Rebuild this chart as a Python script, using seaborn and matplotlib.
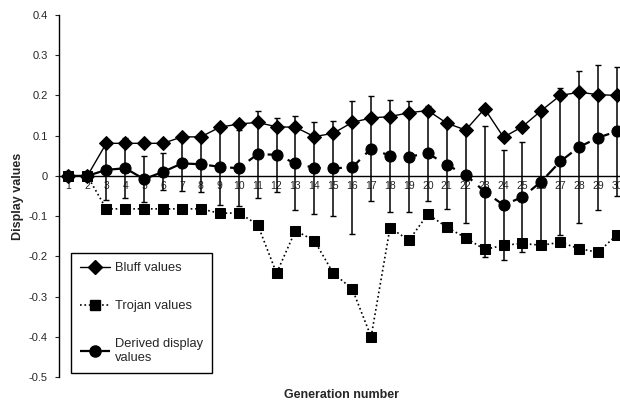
import matplotlib
matplotlib.use("Agg")
import matplotlib.pyplot as plt
import seaborn as sns
import pandas as pd
from matplotlib.lines import Line2D

gens = list(range(1, 31))
bluff = [0, 0, 0.081, 0.081, 0.081, 0.081, 0.097, 0.097, 0.121, 0.129,
         0.133, 0.122, 0.121, 0.0975, 0.106, 0.133, 0.144, 0.1475, 0.157, 0.1625,
         0.131, 0.114, 0.167, 0.096, 0.1225, 0.1625, 0.2, 0.208, 0.202, 0.2]
trojan = [0, 0, -0.082, -0.082, -0.082, -0.082, -0.082, -0.082, -0.093, -0.092,
          -0.121, -0.242, -0.136, -0.161, -0.242, -0.281, -0.4, -0.129, -0.16, -0.095,
          -0.1275, -0.154, -0.183, -0.1725, -0.168, -0.1725, -0.165, -0.181, -0.19, -0.146]
derived = [0, 0, 0.015, 0.019, -0.008, 0.01, 0.031, 0.029, 0.0225, 0.019,
           0.054, 0.0525, 0.031, 0.02, 0.019, 0.021, 0.068, 0.05, 0.048, 0.056,
           0.0275, 0.0025, -0.039, -0.0725, -0.0525, -0.014, 0.036, 0.072, 0.095, 0.111]
derived_err = [0, 0, 0.075, 0.075, 0.058, 0.046, 0.068, 0.068, 0.096, 0.094,
               0.108, 0.092, 0.117, 0.114, 0.118, 0.166, 0.13, 0.139, 0.139, 0.118,
               0.11, 0.12, 0.163, 0.136, 0.137, 0.169, 0.182, 0.19, 0.18, 0.16]
ytick_vals = [0.4, 0.3, 0.2, 0.1, 0, -0.1, -0.2, -0.3, -0.4, -0.5]
ytick_labels = ["0.4", "0.3", "0.2", "0.1", "0", "-0.1", "-0.2", "-0.3", "-0.4", "-0.5"]
series_names = ["Bluff values", "Trojan values", "Derived display\nvalues"]

sns.set_style("white")
plt.rcParams['font.family'] = ['Liberation Sans', 'DejaVu Sans']

fig = plt.figure(figsize=(6.2, 4.07), dpi=100)
W, H = 620, 407
left, right, top, bottom = 59, 626.5, 15, 377
ax = fig.add_axes([left / W, 1 - bottom / H, (right - left) / W, (bottom - top) / H])

df = pd.DataFrame({"gen": gens, "bluff": bluff, "trojan": trojan, "derived": derived})

# error bars on derived values
ax.errorbar(gens, derived, yerr=derived_err, fmt='none', ecolor='black',
            elinewidth=1.1, capsize=2.2, capthick=1.0, zorder=2)

sns.lineplot(data=df, x="gen", y="derived", ax=ax, color='black', lw=1.6,
             marker='o', markersize=8, markeredgecolor='black',
             dashes=False, zorder=3)
ax.lines[-1].set_dashes([6, 3.5])
sns.lineplot(data=df, x="gen", y="bluff", ax=ax, color='black', lw=1.0,
             marker='D', markersize=7.2, markeredgecolor='black', zorder=4)
sns.lineplot(data=df, x="gen", y="trojan", ax=ax, color='black', lw=1.2,
             marker='s', markersize=7.5, markeredgecolor='black', zorder=5)
ax.lines[-1].set_linestyle(':')

ax.set_xlim(0.5, 30.5)
ax.set_ylim(-0.5, 0.4)
ax.set_xlabel("")
ax.set_ylabel("")

for s in ['top', 'right']:
    ax.spines[s].set_visible(False)
ax.spines['bottom'].set_position(('data', 0))
ax.spines['bottom'].set_color('black')
ax.spines['bottom'].set_linewidth(1.0)
ax.spines['left'].set_color('black')
ax.spines['left'].set_linewidth(1.0)

ax.set_xticks(gens)
ax.set_xticklabels([str(g) for g in gens], fontsize=7.5)
ax.set_xticks([g + 0.5 for g in gens[:-1]], minor=True)
ax.tick_params(axis='x', which='major', length=0, pad=4)
ax.tick_params(axis='x', which='minor', length=3, direction='out', width=0.8)

ax.set_yticks(ytick_vals)
ax.set_yticklabels(ytick_labels, fontsize=8)
ax.tick_params(axis='y', which='major', length=3, direction='out', width=0.8, pad=5, left=True)

handles = [
    Line2D([0], [0], color='black', lw=1.0, marker='D', markersize=7.2),
    Line2D([0], [0], color='black', lw=1.2, ls=':', marker='s', markersize=7.5),
    Line2D([0], [0], color='black', lw=1.6, ls=(0, (6, 3.5)), marker='o', markersize=8),
]
leg = ax.legend(handles, series_names, loc='lower left',
                bbox_to_anchor=(0.021, 0.011), borderaxespad=0,
                frameon=True, fancybox=False, edgecolor='black', framealpha=1,
                fontsize=9.3, handlelength=2.3, handletextpad=0.4,
                labelspacing=2.0, borderpad=0.7)
leg.get_frame().set_linewidth(1.0)
leg.set_zorder(10)

fig.text(342 / W, 1 - 395 / H, "Generation number", ha='center', va='center',
         fontsize=9, fontweight='bold')
fig.text(18 / W, 1 - 196 / H, "Display values", ha='center', va='center',
         rotation=90, fontsize=9, fontweight='bold')

fig.savefig("out.png", dpi=100)
